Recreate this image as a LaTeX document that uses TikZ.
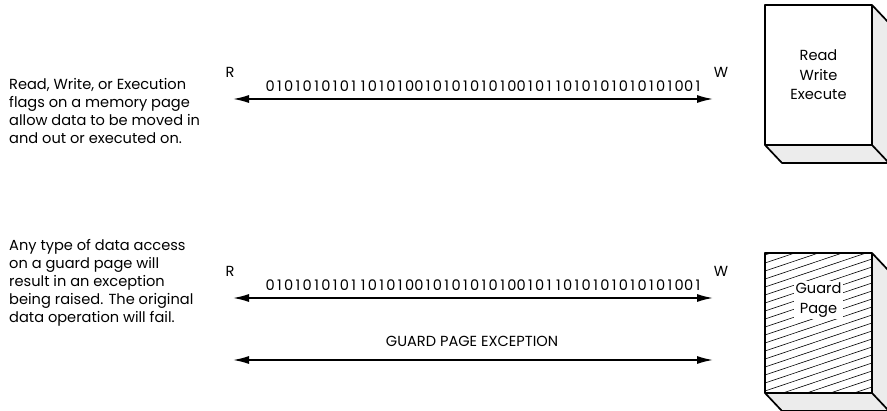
\documentclass[tikz,border=0pt]{standalone}
\usepackage{fontspec}
\setmainfont{Poppins}
\usetikzlibrary{positioning,calc,arrows.meta}

% fixed-width digits for the bit strings
\newcommand\bitrow[1]{\bitstep#1\relax}
\def\bitstep#1{\ifx#1\relax\else\makebox[9.3pt]{#1}\expandafter\bitstep\fi}

\tikzset{
  flow/.style={line width=1.5pt,{Latex[length=16pt,width=8pt]}-{Latex[length=16pt,width=8pt]}},
  note/.style={anchor=north west,align=left,inner sep=0pt,font=\fontsize{14.6}{18}\selectfont},
  lbl/.style={inner sep=0pt,font=\fontsize{14.6}{18}\selectfont},
  face/.style={line width=1.7pt,line join=round},
  side/.style={fill=gray!15},
}

\begin{document}
\begin{tikzpicture}[x=1pt,y=-1pt]
\useasboundingbox (0,0) rectangle (887,411);
%top row: normal page
\node[note] (txtA) at (9,78) {Read, Write, or Execution\\flags on a memory page\\allow data to be moved in\\and out or executed on.};
\coordinate (rA) at (233,99);
\coordinate (wA) at (713,99);
\draw[flow] (rA) -- (wA);
\node[lbl] (bitsA) at (484,86) {\bitrow{01010101011010100101010101001011010101010101001}};
\node[lbl] (labRA) at (230,72) {R};
\node[lbl] (labWA) at (721,72) {W};
%page block
\fill[side] (872,5) -- (889,23) -- (889,163) -- (782,163) -- (765,145) -- (872,145) -- cycle;
\draw[face] (872,5) -- (889,23);
\draw[face] (765,145) -- (782,163) -- (889,163);
\draw[face] (872,145) -- (889,163);
\draw[face,fill=white] (765,5) rectangle (872,145);
\node[lbl,align=center,font=\fontsize{14.6}{19.5}\selectfont] (rwx) at (818.5,75) {Read\\Write\\Execute};
%bottom row: guard page
\node[note] (txtB) at (9,239) {Any type of data access\\on a guard page will\\result in an exception\\being raised. The original\\data operation will fail.};
\coordinate (rB) at (233,298);
\coordinate (wB) at (713,298);
\draw[flow] (rB) -- (wB);
\node[lbl] (bitsB) at (484,285) {\bitrow{01010101011010100101010101001011010101010101001}};
\node[lbl] (labRB) at (230,271) {R};
\node[lbl] (labWB) at (721,271) {W};
\coordinate (rC) at (233,360);
\coordinate (wC) at (713,360);
\draw[flow] (rC) -- (wC);
\node[lbl] (exc) at (472,341) {GUARD PAGE EXCEPTION};
%guard block
\fill[side] (872,253) -- (889,271) -- (889,411) -- (782,411) -- (765,393) -- (872,393) -- cycle;
\draw[face] (872,253) -- (889,271);
\draw[face] (765,393) -- (782,411) -- (889,411);
\draw[face] (872,393) -- (889,411);
\fill[white] (765,253) rectangle (872,393);
\begin{scope}
\clip (765,253) rectangle (872,393);
\foreach \y in {255,263,...,440}
  \draw[line width=0.6pt] (765,\y) -- ++(107,-36);
\end{scope}
\draw[face] (765,253) rectangle (872,393);
\node[lbl,align=center,fill=white,inner sep=2pt,font=\fontsize{14.6}{19.5}\selectfont] (guard) at (818.5,300) {Guard\\Page};
\end{tikzpicture}
\end{document}
